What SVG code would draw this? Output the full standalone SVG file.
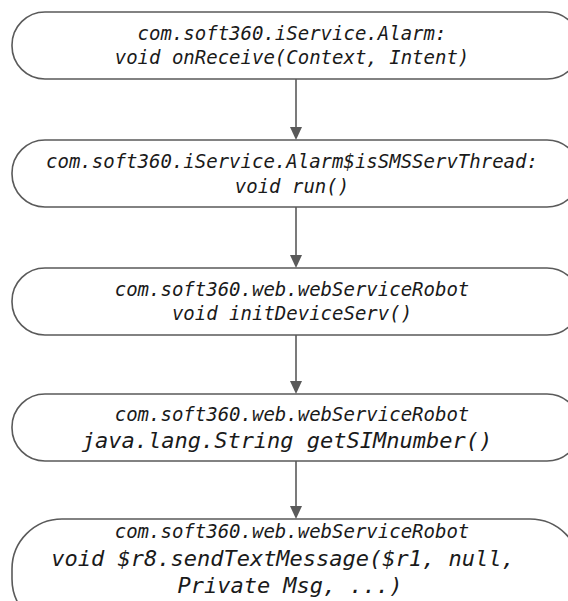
<svg xmlns="http://www.w3.org/2000/svg" width="568" height="601" viewBox="0 0 568 601">
  <style>
    .box { fill: #ffffff; stroke: #5a5a5a; stroke-width: 1.6; }
    .lbl { font-family: "DejaVu Sans Mono", "Liberation Mono", monospace; font-style: italic; font-size: 19px; fill: #1a1a1a; text-anchor: middle; }
    .big { font-size: 22px; }
    .edge { stroke: #5a5a5a; stroke-width: 1.6; }
    .tip { fill: #5a5a5a; }
  </style>
  <rect width="568" height="601" fill="#ffffff"/>

  <!-- call chain connectors: shaft plus filled triangular head -->
  <g id="connectors">
    <line class="edge" x1="296" y1="79" x2="296" y2="128"/>
    <polygon class="tip" points="290,127 302,127 296,140"/>
    <line class="edge" x1="296" y1="207" x2="296" y2="256"/>
    <polygon class="tip" points="290,255 302,255 296,268"/>
    <line class="edge" x1="296" y1="335" x2="296" y2="382"/>
    <polygon class="tip" points="290,381 302,381 296,394"/>
    <line class="edge" x1="296" y1="461" x2="296" y2="507"/>
    <polygon class="tip" points="290,506 302,506 296,519"/>
  </g>

  <g id="onReceive">
    <rect class="box" x="12" y="12" width="568" height="67" rx="33" ry="33"/>
    <text class="lbl" x="292" y="40">com.soft360.iService.Alarm:</text>
    <text class="lbl" x="292" y="64">void onReceive(Context, Intent)</text>
  </g>

  <g id="smsThreadRun">
    <rect class="box" x="12" y="140" width="568" height="67" rx="33" ry="33"/>
    <text class="lbl" x="292" y="168">com.soft360.iService.Alarm$isSMSServThread:</text>
    <text class="lbl" x="292" y="193">void run()</text>
  </g>

  <g id="initDeviceServ">
    <rect class="box" x="12" y="268" width="568" height="67" rx="33" ry="33"/>
    <text class="lbl" x="292" y="296">com.soft360.web.webServiceRobot</text>
    <text class="lbl" x="292" y="320">void initDeviceServ()</text>
  </g>

  <g id="getSIMnumber">
    <rect class="box" x="12" y="394" width="568" height="67" rx="33" ry="33"/>
    <text class="lbl" x="292" y="421">com.soft360.web.webServiceRobot</text>
    <text class="lbl big" x="287" y="448">java.lang.String getSIMnumber()</text>
  </g>

  <g id="sendTextMessage">
    <rect class="box" x="12" y="519" width="568" height="110" rx="50" ry="50"/>
    <text class="lbl" x="292" y="538">com.soft360.web.webServiceRobot</text>
    <text class="lbl big" x="283" y="566">void $r8.sendTextMessage($r1, null,</text>
    <text class="lbl big" x="290" y="593">Private Msg, ...)</text>
  </g>
</svg>
